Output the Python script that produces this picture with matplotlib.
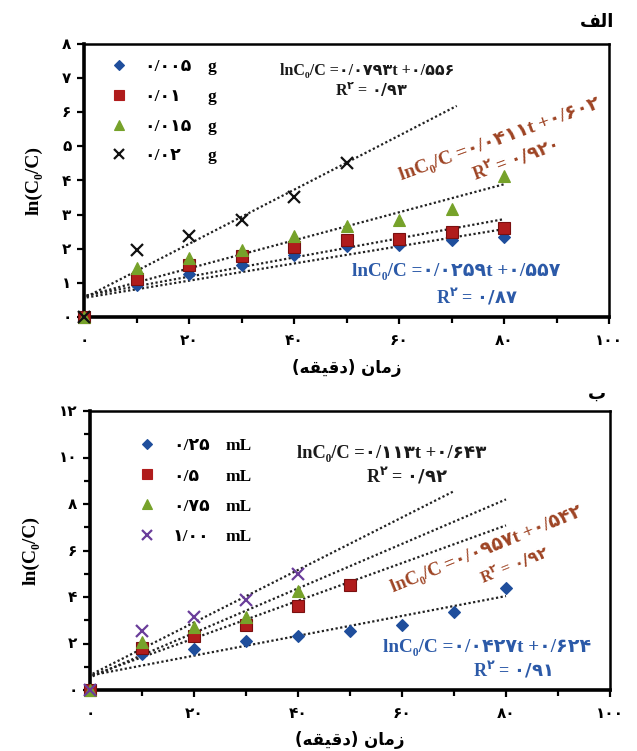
import matplotlib
matplotlib.use("Agg")
import matplotlib.pyplot as plt
from matplotlib.lines import Line2D
from matplotlib.ticker import MultipleLocator, FuncFormatter
import numpy as np

plt.rcParams['font.family'] = ['Liberation Serif', 'DejaVu Sans']
plt.rcParams['font.weight'] = 'bold'
plt.rcParams['mathtext.fontset'] = 'custom'
plt.rcParams['mathtext.bf'] = 'DejaVu Sans:bold'
plt.rcParams['mathtext.rm'] = 'DejaVu Sans:bold'

# ---- panel الف : catalyst dose (g) ----
top_labels = ["0.005", "0.01", "0.015", "0.02"]
top_x = [[0, 10, 20, 30, 40, 50, 60, 70, 80],
         [0, 10, 20, 30, 40, 50, 60, 70, 80],
         [0, 10, 20, 30, 40, 50, 60, 70, 80],
         [0, 10, 20, 30, 40, 50]]
top_y = [[0, 0.95, 1.27, 1.53, 1.83, 2.07, 2.10, 2.27, 2.34],
         [0, 1.11, 1.53, 1.80, 2.05, 2.25, 2.29, 2.49, 2.61],
         [0, 1.44, 1.73, 1.97, 2.36, 2.66, 2.85, 3.16, 4.12],
         [0, 1.97, 2.36, 2.85, 3.52, 4.51]]
# fitted lines: slope, intercept, end time
top_slope = [0.0252, 0.0281, 0.0411, 0.0793]
top_icpt = [0.56, 0.62, 0.602, 0.556]
top_tend = [80, 80, 80, 71]

# ---- panel ب : H2O2 volume (mL) ----
bot_labels = ["0.25", "0.5", "0.75", "1.00"]
bot_x = [[0, 10, 20, 30, 40, 50, 60, 70, 80],
         [0, 10, 20, 30, 40, 50],
         [0, 10, 20, 30, 40],
         [0, 10, 20, 30, 40]]
bot_y = [[0, 1.54, 1.76, 2.11, 2.31, 2.54, 2.81, 3.36, 4.40],
         [0, 1.79, 2.31, 2.79, 3.60, 4.50],
         [0, 2.07, 2.69, 3.14, 4.24],
         [0, 2.54, 3.14, 3.86, 5.00]]
bot_slope = [0.0427, 0.081, 0.0957, 0.113]
bot_icpt = [0.624, 0.60, 0.542, 0.643]
bot_tend = [80, 80, 80, 70]

# equation texts shown on the chart: slope, intercept, R2
top_eq = [("0.0793", "0.556", "0.93"), ("0.0411", "0.602", "0.920"), ("0.0259", "0.557", "0.87")]
bot_eq = [("0.113", "0.643", "0.92"), ("0.0957", "0.542", "0.92"), ("0.0427", "0.624", "0.91")]

markers = ['D', 's', '^', 'x']
msizes = [6, 8.5, 8, 9]
top_colors = ['#1f4e9c', '#b01c1c', '#76a22a', '#111111']
bot_colors = ['#1f4e9c', '#b01c1c', '#76a22a', '#6a3d9a']
blue_txt = '#2c5aa8'
red_txt = '#9e4424'

fa_map = str.maketrans('0123456789.', '۰۱۲۳۴۵۶۷۸۹/')


def fa(s):
    return str(s).translate(fa_map)


def eq_text(slope, icpt):
    return "lnC₀/C =" + fa(slope) + "t +" + fa(icpt)


def r2_text(r2):
    return r"R$^{\mathbf{۲}}$ = $\mathbf{" + fa(r2) + "}$"


W, H = 637, 751
fig = plt.figure(figsize=(W / 100, H / 100), dpi=100)


def px(x, y):
    return x / W, 1 - y / H


def draw_panel(ax, xs, ys, slopes, icpts, tends, labels, colors, unit, ymax, ymajor, yminor,
               leg_anchor, leg_space):
    for i in range(4):
        mec = '#7a1010' if markers[i] == 's' else colors[i]
        ax.plot(xs[i], ys[i], linestyle='none', marker=markers[i], ms=msizes[i],
                color=colors[i], mec=mec, mew=1.6 if markers[i] == 'x' else 0.8,
                clip_on=False, zorder=3)
    for i in range(4):
        t = np.array([0.5, tends[i]])
        ax.plot(t, slopes[i] * t + icpts[i], color='#222222', lw=1.6,
                linestyle=(0, (1, 1.1)), zorder=2)
    ax.set_xlim(0, 100)
    ax.set_ylim(0, ymax)
    ax.xaxis.set_major_locator(MultipleLocator(20))
    ax.xaxis.set_minor_locator(MultipleLocator(10))
    ax.yaxis.set_major_locator(MultipleLocator(ymajor))
    ax.yaxis.set_minor_locator(MultipleLocator(yminor))
    fmt = FuncFormatter(lambda v, p: fa(int(round(v))))
    ax.xaxis.set_major_formatter(fmt)
    ax.yaxis.set_major_formatter(fmt)
    ax.tick_params(which='both', direction='out', width=1.6, labelsize=11, pad=4)
    ax.tick_params(which='major', length=5)
    ax.tick_params(which='minor', length=4)
    ax.tick_params(axis='x', pad=8)
    for lab in ax.get_xticklabels() + ax.get_yticklabels():
        lab.set_fontweight('bold')
    for s in ['left', 'bottom']:
        ax.spines[s].set_linewidth(2.6)
    for s in ['top', 'right']:
        ax.spines[s].set_linewidth(1.8)
    ax.set_ylabel("ln(C₀/C)", fontsize=14, fontweight='bold', labelpad=14)

    handles = [Line2D([], [], linestyle='none', marker=markers[i], ms=msizes[i] * 0.85,
                      color=colors[i], mec=colors[i], mew=1.6 if markers[i] == 'x' else 0.8)
               for i in range(4)]
    blanks = [Line2D([], [], linestyle='none') for _ in range(4)]
    ax.legend(handles + blanks, [fa(l) for l in labels] + [unit] * 4, ncol=2,
              frameon=False, fontsize=12.5, handlelength=1.2, handletextpad=0.9,
              columnspacing=-1.2, labelspacing=leg_space, loc='upper left',
              bbox_to_anchor=leg_anchor, borderaxespad=0.0)


# x-axis label "زمان (دقیقه)" in visual order with joined letter forms
xlabel = "(\ufeea\ufed8\ufef4\ufed7\ufea9) \ufee5\ufe8e\ufee3\ufeaf"

ax1 = fig.add_axes([84 / W, 1 - 317 / H, 525 / W, 273 / H])
draw_panel(ax1, top_x, top_y, top_slope, top_icpt, top_tend, top_labels, top_colors,
           "g", 8, 1, 1, (0.033, 0.97), 0.78)
ax1.set_xlabel(xlabel, fontsize=12, fontweight='bold', family=['DejaVu Sans'], labelpad=8)

ax2 = fig.add_axes([90 / W, 1 - 690 / H, 520 / W, 279 / H])
draw_panel(ax2, bot_x, bot_y, bot_slope, bot_icpt, bot_tend, bot_labels, bot_colors,
           "mL", 12, 2, 1, (0.076, 0.927), 0.8)
ax2.set_xlabel(xlabel, fontsize=12, fontweight='bold', family=['DejaVu Sans'], labelpad=7)

# panel letters
fig.text(*px(614, 22), "\ufed2\ufedf\ufe8d", ha='right', va='center', fontsize=13,
         fontweight='bold', family=['DejaVu Sans'])
fig.text(*px(606, 394), "\ufe8f", ha='right', va='center', fontsize=13,
         fontweight='bold', family=['DejaVu Sans'])

# equations, panel الف
kw = dict(ha='center', va='center', fontweight='bold')
rot = dict(rotation_mode='anchor')
fig.text(*px(367, 71), eq_text(*top_eq[0][:2]), color='#1a1a1a', fontsize=11.5, **kw)
fig.text(*px(372, 91), r2_text(top_eq[0][2]), color='#1a1a1a', fontsize=11.5, **kw)
fig.text(*px(500, 140), eq_text(*top_eq[1][:2]), color=red_txt, fontsize=14,
         rotation=20, **rot, **kw)
fig.text(*px(515, 159), r2_text(top_eq[1][2]), color=red_txt, fontsize=13,
         rotation=20, **rot, **kw)
fig.text(*px(456, 272), eq_text(*top_eq[2][:2]), color=blue_txt, fontsize=13.8, **kw)
fig.text(*px(477, 297), r2_text(top_eq[2][2]), color=blue_txt, fontsize=13, **kw)

# equations, panel ب
fig.text(*px(392, 454), eq_text(*bot_eq[0][:2]), color='#1a1a1a', fontsize=13.3, **kw)
fig.text(*px(407, 476), r2_text(bot_eq[0][2]), color='#1a1a1a', fontsize=13, **kw)
fig.text(*px(487, 550), eq_text(*bot_eq[1][:2]), color=red_txt, fontsize=13.5,
         rotation=22, **rot, **kw)
fig.text(*px(515, 566), r2_text(bot_eq[1][2]), color=red_txt, fontsize=11.5,
         rotation=22, **rot, **kw)
fig.text(*px(487, 647), eq_text(*bot_eq[2][:2]), color=blue_txt, fontsize=13.8, **kw)
fig.text(*px(512, 670), r2_text(bot_eq[2][2]), color=blue_txt, fontsize=13, **kw)

fig.savefig("out.png", dpi=100)
